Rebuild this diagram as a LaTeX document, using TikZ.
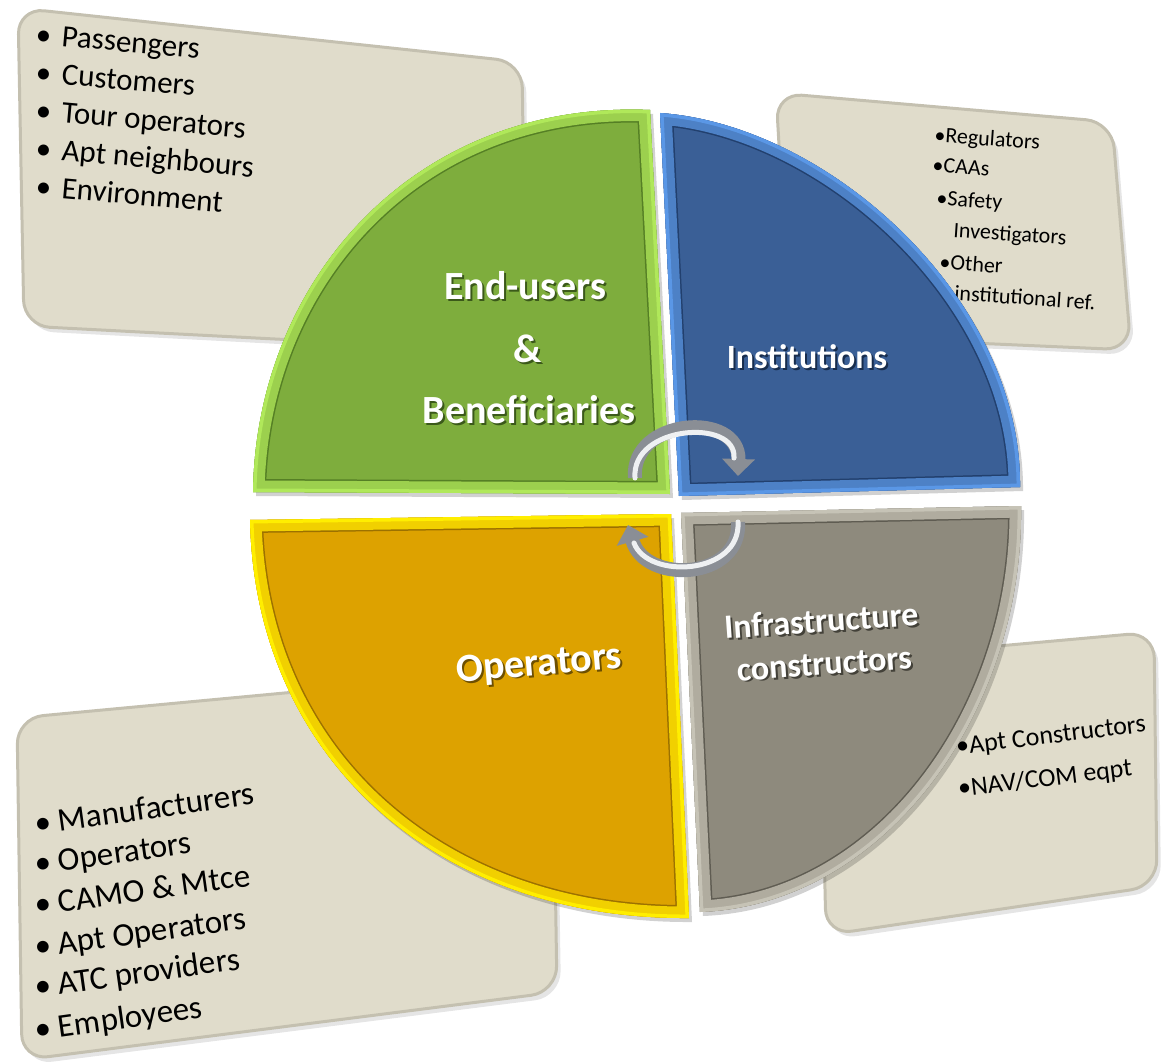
\documentclass[tikz,border=0pt]{standalone}
\usepackage{fontspec}
\setmainfont{Carlito}
\usetikzlibrary{arrows.meta}
\definecolor{boxfill}{HTML}{E0DCCB}
\definecolor{boxedge}{HTML}{C4C0B0}
\definecolor{greenmain}{HTML}{7EAD3D}
\definecolor{greenlight}{HTML}{B0E85A}
\definecolor{greendark}{HTML}{557F25}
\definecolor{bluemain}{HTML}{3A5F96}
\definecolor{bluelight}{HTML}{5A97E6}
\definecolor{bluedark}{HTML}{22406E}
\definecolor{orgmain}{HTML}{DDA200}
\definecolor{orglight}{HTML}{FFEE00}
\definecolor{orgdark}{HTML}{9C7100}
\definecolor{graymain}{HTML}{8E8A7D}
\definecolor{graylight}{HTML}{C6C3B6}
\definecolor{graydark}{HTML}{5F5C52}
\definecolor{arrowdark}{HTML}{8A8E95}
\definecolor{arrowlight}{HTML}{EEF0F2}
\newcommand\bevelshape[4]{%
  \begin{scope}[shift={(3,4)}]\fill[black,opacity=0.18] #1;\end{scope}
  \fill[#2] #1;
  \begin{scope}
    \clip #1;
    \draw[#4, line width=26pt] #1;
    \draw[#3!60!#2, line width=23pt] #1;
    \draw[#3, line width=7pt] #1;
  \end{scope}}
\newcommand\sh[2]{\makebox[0pt][l]{\kern2pt\raisebox{-2pt}{\color{#1}#2}}#2}
\newcommand\bul[1]{\makebox[#1][l]{•}}
\begin{document}
\begin{tikzpicture}[x=1pt,y=-1pt,
  box/.style={fill=boxfill, draw=boxedge, line width=3pt, rounded corners=26pt},
  boxshadow/.style={fill=black, opacity=0.10, rounded corners=26pt},
  item/.style={anchor=base west, inner sep=0pt, text=black},
  lbl/.style={anchor=base, inner sep=0pt, text=white, font=\bfseries\fontsize{40}{40}\selectfont},
  lblsm/.style={lbl, font=\bfseries\fontsize{34}{34}\selectfont},
  arrowbody/.style={line width=14pt, draw=arrowdark, -{Triangle[length=17pt,width=32pt]}},
  arrowshine/.style={line width=5pt, draw=arrowlight, line cap=round},
]
\useasboundingbox (0,0) rectangle (1161,1064);

% ---------- boxes ----------
\begin{scope}[shift={(4,5)}]
  \fill[boxshadow] (18,8) -- (522,62) -- (526,352) -- (24,326) -- cycle;
  \fill[boxshadow] (776,93) -- (1112,122) -- (1131,350) -- (790,335) -- cycle;
  \fill[boxshadow] (17,718) -- (552,668) -- (557,992) -- (22,1060) -- cycle;
  \fill[boxshadow] (820,662) -- (1154,632) -- (1157,886) -- (826,935) -- cycle;
\end{scope}
\draw[box] (18,8) -- (522,62) -- (526,352) -- (24,326) -- cycle;
\draw[box] (776,93) -- (1112,122) -- (1131,350) -- (790,335) -- cycle;
\draw[box] (17,718) -- (552,668) -- (557,992) -- (22,1060) -- cycle;
\draw[box] (820,662) -- (1154,632) -- (1157,886) -- (826,935) -- cycle;

% top-left list
\begin{scope}[every node/.style={item, rotate=-5, font=\fontsize{31}{31}\selectfont}]
  \node (tl1) at (35,44)  {\bul{26pt}Passengers};
  \node (tl2) at (35,82)  {\bul{26pt}Customers};
  \node (tl3) at (35,120) {\bul{26pt}Tour operators};
  \node (tl4) at (35,158) {\bul{26pt}Apt neighbours};
  \node (tl5) at (35,196) {\bul{26pt}Environment};
\end{scope}
% top-right list
\begin{scope}[every node/.style={item, rotate=-4, font=\fontsize{22}{22}\selectfont}]
  \node (tr1) at (934,142) {•Regulators};
  \node (tr2) at (932,172) {•CAAs};
  \node (tr3) at (936,205) {•Safety};
  \node (tr4) at (953,237) {Investigators};
  \node (tr5) at (939,269) {•Other};
  \node (tr6) at (954,300) {institutional ref.};
\end{scope}
% bottom-left list
\begin{scope}[every node/.style={item, rotate=8, font=\fontsize{33}{33}\selectfont}]
  \node (bl1) at (36,835)  {\bul{24pt}Manufacturers};
  \node (bl2) at (36,875)  {\bul{24pt}Operators};
  \node (bl3) at (36,916)  {\bul{24pt}CAMO \& Mtce};
  \node (bl4) at (36,958)  {\bul{24pt}Apt Operators};
  \node (bl5) at (36,998)  {\bul{24pt}ATC providers};
  \node (bl6) at (36,1041) {\bul{24pt}Employees};
\end{scope}
% bottom-right list
\begin{scope}[every node/.style={item, rotate=7, font=\fontsize{26}{26}\selectfont}]
  \node (br1) at (957,755) {•Apt Constructors};
  \node (br2) at (959,797) {•NAV/COM eqpt};
\end{scope}

% ---------- quadrants ----------
\bevelshape{(650,110) -- (670,494) -- (253,492) .. controls (256,280) and (415,100) .. (650,110) -- cycle}{greenmain}{greenlight}{greendark}
\bevelshape{(660,113) .. controls (830,125) and (1022,300) .. (1020,487) -- (679,496) -- cycle}{bluemain}{bluelight}{bluedark}
\bevelshape{(250,520) -- (671,514) -- (689,918) .. controls (440,920) and (255,760) .. (250,520) -- cycle}{orgmain}{orglight}{orgdark}
\bevelshape{(681,513) -- (1021,506) .. controls (1024,712) and (885,905) .. (700,912) -- cycle}{graymain}{graylight}{graydark}

% ---------- labels ----------
\node[lbl] (eu1) at (525,300) {\sh{greendark!70!black}{End-users}};
\node[lbl] (eu2) at (528,362) {\sh{greendark!70!black}{\&}};
\node[lbl] (eu3) at (529,423) {\sh{greendark!70!black}{Beneficiaries}};
\node[lblsm] (ins) at (807,368) {\sh{bluedark!70!black}{Institutions}};
\node[lbl, rotate=5] (ops) at (540,675) {\sh{orgdark!70!black}{Operators}};
\node[lblsm, rotate=4] (inf1) at (822,632) {\sh{graydark!70!black}{Infrastructure}};
\node[lblsm, rotate=4] (inf2) at (825,675) {\sh{graydark!70!black}{constructors}};

% ---------- circular arrows ----------
\coordinate (a1s) at (635,478);
\coordinate (a1e) at (738,476);
\coordinate (a2s) at (738,522);
\coordinate (a2e) at (628,525);
\draw[arrowbody] (a1s) .. controls (630,418) and (740,410) .. (a1e);
\draw[arrowshine] (a1s) .. controls (631,425) and (737,418) .. (734,458);
\draw[arrowbody] (a2s) .. controls (742,580) and (645,585) .. (a2e);
\draw[arrowshine] (a2s) .. controls (741,575) and (648,580) .. (634,543);
\end{tikzpicture}
\end{document}
